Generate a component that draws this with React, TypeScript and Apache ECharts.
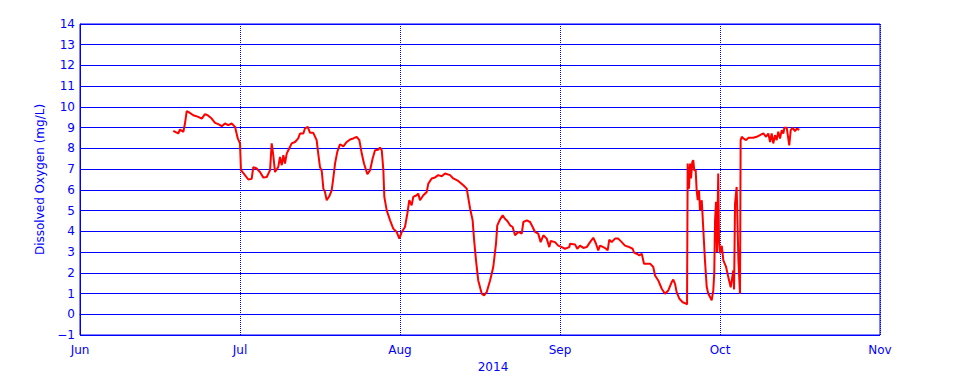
import React, { useEffect, useRef } from "react";
import * as echarts from "echarts";

// x positions are in month units (Jun 1 = 0, Jul 1 = 1, ... Nov 1 = 5)
const monthLabels = ["Jun", "Jul", "Aug", "Sep", "Oct", "Nov"];
const yearLabel = "2014";
const yAxisTitle = "Dissolved Oxygen (mg/L)";

const doTime: number[] = [
  0.583, 0.614, 0.625, 0.646, 0.656, 0.667, 0.677, 0.708, 0.739, 0.761, 0.781, 0.798, 0.823, 0.844, 0.864, 0.886,
  0.906, 0.927, 0.948, 0.969, 0.986, 1.0, 1.006, 1.031, 1.052, 1.073, 1.083, 1.104, 1.125, 1.146, 1.167, 1.188,
  1.198, 1.208, 1.219, 1.239, 1.25, 1.261, 1.271, 1.281, 1.292, 1.302, 1.323, 1.344, 1.364, 1.375, 1.396, 1.406,
  1.423, 1.438, 1.458, 1.479, 1.489, 1.5, 1.511, 1.521, 1.531, 1.542, 1.558, 1.573, 1.583, 1.594, 1.608, 1.625,
  1.646, 1.667, 1.688, 1.708, 1.729, 1.746, 1.761, 1.775, 1.796, 1.813, 1.829, 1.844, 1.864, 1.875, 1.886, 1.896,
  1.902, 1.917, 1.938, 1.958, 1.979, 1.996, 2.011, 2.031, 2.046, 2.058, 2.073, 2.083, 2.104, 2.114, 2.125, 2.146,
  2.167, 2.177, 2.198, 2.219, 2.239, 2.261, 2.281, 2.313, 2.333, 2.364, 2.396, 2.417, 2.438, 2.454, 2.463, 2.475,
  2.489, 2.511, 2.525, 2.542, 2.563, 2.583, 2.6, 2.608, 2.625, 2.642, 2.656, 2.671, 2.688, 2.704, 2.719, 2.739,
  2.761, 2.771, 2.792, 2.813, 2.829, 2.844, 2.864, 2.879, 2.896, 2.917, 2.933, 2.942, 2.969, 2.989, 3.011, 3.031,
  3.058, 3.063, 3.094, 3.108, 3.125, 3.146, 3.167, 3.188, 3.208, 3.225, 3.239, 3.25, 3.271, 3.288, 3.298, 3.308,
  3.323, 3.344, 3.364, 3.386, 3.406, 3.427, 3.454, 3.463, 3.479, 3.496, 3.511, 3.525, 3.563, 3.583, 3.594, 3.614,
  3.636, 3.656, 3.677, 3.698, 3.708, 3.719, 3.729, 3.746, 3.767, 3.788, 3.794, 3.798, 3.806, 3.813, 3.819, 3.827,
  3.833, 3.839, 3.848, 3.854, 3.861, 3.869, 3.875, 3.886, 3.896, 3.906, 3.917, 3.927, 3.938, 3.948, 3.958, 3.964,
  3.969, 3.975, 3.981, 3.989, 3.994, 4.0, 4.011, 4.021, 4.038, 4.052, 4.067, 4.083, 4.088, 4.094, 4.104, 4.115,
  4.125, 4.129, 4.136, 4.146, 4.163, 4.177, 4.208, 4.229, 4.25, 4.271, 4.288, 4.302, 4.313, 4.323, 4.333, 4.344,
  4.354, 4.364, 4.375, 4.386, 4.396, 4.402, 4.417, 4.433, 4.442, 4.454, 4.469, 4.479, 4.496,
];

const doValue: number[] = [
  8.85, 8.72, 8.91, 8.8, 9.2, 9.8, 9.76, 9.6, 9.52, 9.44, 9.65, 9.6, 9.44, 9.23, 9.17, 9.07,
  9.2, 9.12, 9.2, 9.04, 8.48, 8.24, 6.95, 6.71, 6.5, 6.53, 7.1, 7.03, 6.86, 6.59, 6.62, 6.95,
  8.24, 7.67, 6.86, 7.1, 7.59, 7.19, 7.67, 7.27, 7.75, 7.91, 8.24, 8.31, 8.48, 8.72, 8.72, 8.96,
  9.04, 8.75, 8.75, 8.4, 7.75, 7.1, 6.91, 6.06, 5.9, 5.5, 5.69, 5.98, 6.55, 7.27, 7.83, 8.2,
  8.1, 8.31, 8.43, 8.48, 8.56, 8.4, 7.75, 7.27, 6.75, 6.95, 7.51, 7.91, 7.94, 8.04, 7.91, 6.95,
  5.66, 5.01, 4.53, 4.13, 3.97, 3.65, 3.97, 4.21, 4.86, 5.5, 5.26, 5.66, 5.74, 5.82, 5.5, 5.74,
  5.9, 6.3, 6.55, 6.6, 6.71, 6.66, 6.79, 6.71, 6.55, 6.43, 6.22, 6.06, 5.1, 4.53, 3.6, 2.6,
  1.63, 0.99, 0.91, 1.07, 1.63, 2.28, 3.41, 4.29, 4.57, 4.77, 4.61, 4.5, 4.29, 4.21, 3.81, 3.97,
  3.89, 4.45, 4.53, 4.45, 4.21, 3.97, 3.89, 3.48, 3.81, 3.65, 3.24, 3.53, 3.48, 3.31, 3.24, 3.16,
  3.24, 3.4, 3.37, 3.16, 3.31, 3.2, 3.24, 3.48, 3.69, 3.4, 3.08, 3.31, 3.24, 3.16, 3.08, 3.6,
  3.48, 3.65, 3.65, 3.48, 3.31, 3.26, 3.16, 2.97, 2.92, 2.84, 2.92, 2.44, 2.44, 2.28, 1.87, 1.63,
  1.23, 0.99, 1.15, 1.55, 1.67, 1.47, 1.07, 0.75, 0.58, 0.51, 0.47, 7.27, 6.06, 7.27, 6.55, 7.35,
  7.43, 6.95, 6.95, 5.98, 5.5, 5.98, 5.01, 5.5, 4.05, 2.6, 1.31, 0.99, 0.83, 0.67, 1.15, 1.96,
  4.5, 5.42, 3.0, 6.79, 3.5, 2.94, 3.3, 2.6, 2.28, 1.79, 1.3, 2.12, 1.2, 5.34, 6.14, 2.6,
  0.99, 8.4, 8.56, 8.48, 8.4, 8.51, 8.51, 8.56, 8.64, 8.72, 8.56, 8.72, 8.31, 8.72, 8.24, 8.64,
  8.4, 8.8, 8.48, 8.88, 8.72, 8.99, 8.99, 8.15, 8.88, 8.99, 8.83, 8.95, 8.9,
];

const BLUE = "#0000ff";
const FONT = "DejaVu Sans";

export default function App() {
  const ref = useRef<HTMLDivElement>(null);
  useEffect(() => {
    if (!ref.current) return;
    const chart = echarts.init(ref.current, undefined, { renderer: "svg" });
    const data = doTime.map((t, i) => [t, doValue[i]]);
    chart.setOption({
      animation: false,
      backgroundColor: "#ffffff",
      grid: {
        left: 80,
        top: 24,
        width: 800,
        height: 311,
        show: true,
        borderColor: BLUE,
        borderWidth: 1,
        backgroundColor: "transparent",
      },
      xAxis: {
        type: "value",
        min: 0,
        max: 5,
        interval: 1,
        name: yearLabel,
        nameLocation: "middle",
        nameGap: 25,
        nameTextStyle: { color: BLUE, fontFamily: FONT, fontSize: 12, padding: [0, 0, 0, 26] },
        axisLine: { show: true, lineStyle: { color: BLUE, width: 1 } },
        axisTick: { show: false },
        axisLabel: {
          color: BLUE,
          fontFamily: FONT,
          fontSize: 12,
          margin: 9,
          formatter: (v: number) => monthLabels[Math.round(v)] ?? "",
        },
        splitLine: { show: true, lineStyle: { color: BLUE, type: [1, 1], width: 1 } },
      },
      yAxis: {
        type: "value",
        min: -1,
        max: 14,
        interval: 1,
        name: yAxisTitle,
        nameLocation: "middle",
        nameGap: 32,
        nameRotate: 90,
        nameTextStyle: { color: BLUE, fontFamily: FONT, fontSize: 12 },
        axisLine: { show: true, lineStyle: { color: BLUE, width: 1 } },
        axisTick: { show: false },
        axisLabel: {
          color: BLUE,
          fontFamily: FONT,
          fontSize: 12,
          margin: 5,
          formatter: (v: number) => (v < 0 ? "\u2212" + Math.abs(v) : String(v)),
        },
        splitLine: { show: true, lineStyle: { color: BLUE, width: 1 } },
      },
      series: [
        {
          type: "line",
          data,
          showSymbol: false,
          symbol: "none",
          lineStyle: { color: "#ff0000", width: 2 },
          itemStyle: { color: "#ff0000" },
        },
      ],
    });
    return () => chart.dispose();
  }, []);
  return <div ref={ref} style={{ width: 960, height: 384, position: "absolute", left: 0, top: 0 }} />;
}
